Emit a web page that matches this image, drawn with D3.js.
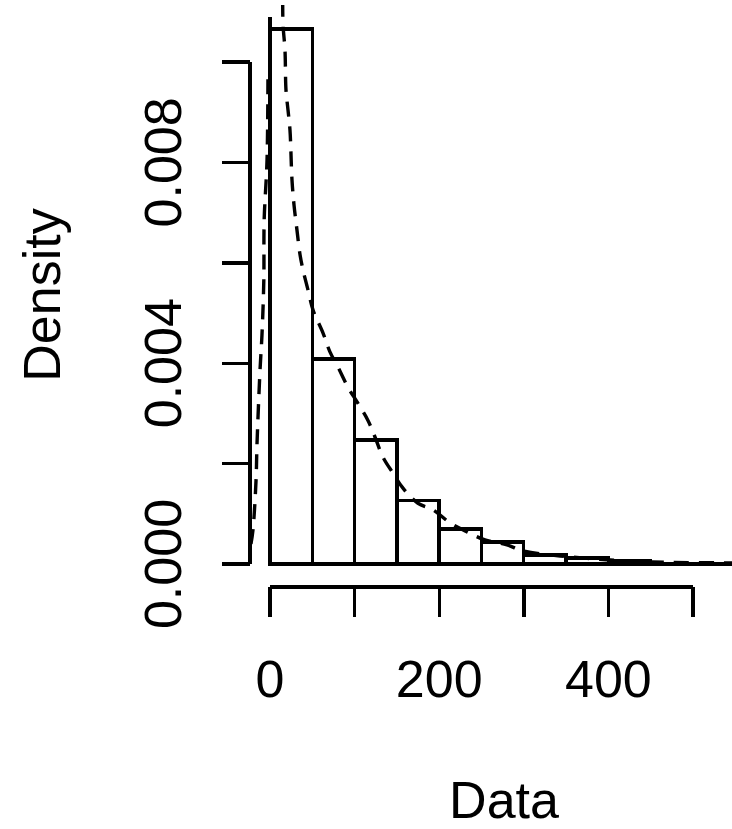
<!DOCTYPE html>
<html>
<head>
<meta charset="utf-8">
<script src="https://cdn.jsdelivr.net/npm/d3@7"></script>
<style>
  body { margin: 0; background: #fff; }
  svg { display: block; }
  text { font-family: "Liberation Sans", Arial, sans-serif; fill: #000; }
</style>
</head>
<body>
<svg width="732" height="829"></svg>
<script>
// histogram bins (width 50) and their densities
var binStarts = [0, 50, 100, 150, 200, 250, 300, 350, 400];
var binDensity = [0.01066, 0.00408, 0.00247, 0.00127, 0.00070, 0.00044, 0.00018, 0.00012, 0.00006];
var binWidth = 50;

// axis ticks
var xTicks = [0, 100, 200, 300, 400, 500];
var xTickLabels = ["0", "", "200", "", "400", ""];
var yTicks = [0, 0.002, 0.004, 0.006, 0.008, 0.010];
var yTickLabels = ["0.000", "", "0.004", "", "0.008", ""];

// solid line: spike at zero then flat
var solidX = [0, 0, 600];
var solidY = [0.0109, 0, 0];

// dashed curve on the left (rises steeply before 0)
var leftX = [-22.5, -20.1, -16.5, -15.4, -11.8, -9.5, -7.3, -6.9, -3.5, -2.4];
var leftY = [0.0004, 0.00068, 0.00167, 0.00237, 0.00386, 0.00456, 0.00566, 0.00685, 0.00805, 0.00978];

// dashed fitted curve following the bars
var fitX = [15.0, 15.4, 17.7, 18.9, 21.3, 23.6, 26.0, 28.4, 31.9, 35.5, 39.0, 44.9, 50.9, 62.7, 71.0, 80.4, 92.2, 104.0, 115.8, 124.1, 133.5, 145.4, 157.2, 174.9, 192.6, 212.8, 232.9, 254.1, 280.1, 299.1, 343.0, 402.0, 452.0, 560.0];
var fitY = [0.0112, 0.01074, 0.01024, 0.00944, 0.00904, 0.00865, 0.00765, 0.00715, 0.00665, 0.00616, 0.00586, 0.00546, 0.00506, 0.00460, 0.00422, 0.00392, 0.00352, 0.00320, 0.00286, 0.00253, 0.00213, 0.00181, 0.00151, 0.00121, 0.00108, 0.00082, 0.00064, 0.00048, 0.00038, 0.00026, 0.00016, 0.00008, 0.00004, 0.00002];

var svg = d3.select("svg"),
    width = +svg.attr("width"),
    height = +svg.attr("height");

var x = d3.scaleLinear().domain([0, 500]).range([270, 693]);
var y = d3.scaleLinear().domain([0, 0.010]).range([564, 62]);

var lw = 3.4;

svg.append("defs").append("clipPath")
    .attr("id", "plotclip")
    .append("rect")
    .attr("x", x(-23.6)).attr("y", 5)
    .attr("width", width).attr("height", 582);

var plot = svg.append("g").attr("clip-path", "url(#plotclip)");

var bars = plot.append("g")
    .selectAll("rect")
    .data(binStarts)
    .enter().append("rect")
    .call(redraw_bar);

function redraw_bar(bar) {
    bar.attr("x", function(d) { return x(d); })
        .attr("y", function(d, i) { return y(binDensity[i]); })
        .attr("width", function(d) { return x(d + binWidth) - x(d); })
        .attr("height", function(d, i) { return y(0) - y(binDensity[i]); })
        .attr("fill", "none")
        .attr("stroke", "black")
        .attr("stroke-width", lw)
        .attr("shape-rendering", "crispEdges");
}

function pts(xs, ys) {
    return xs.map(function(v, i) { return [v, ys[i]]; });
}

var line = d3.line()
    .x(function(p) { return x(p[0]); })
    .y(function(p) { return y(p[1]); });

var smooth = d3.line()
    .x(function(p) { return x(p[0]); })
    .y(function(p) { return y(p[1]); })
    .curve(d3.curveCatmullRom);

plot.append("path")
    .attr("d", line(pts(solidX, solidY)))
    .attr("fill", "none")
    .attr("stroke", "black")
    .attr("stroke-width", lw)
    .attr("shape-rendering", "crispEdges");

plot.append("path")
    .attr("d", smooth(pts(leftX, leftY)))
    .attr("fill", "none")
    .attr("stroke", "black")
    .attr("stroke-width", lw)
    .attr("stroke-dasharray", "15,10");

plot.append("path")
    .attr("d", smooth(pts(fitX, fitY)))
    .attr("fill", "none")
    .attr("stroke", "black")
    .attr("stroke-width", lw)
    .attr("stroke-dasharray", "15,10");

// y axis, R style
var yAxis = svg.append("g").attr("shape-rendering", "crispEdges");
yAxis.append("line")
    .attr("x1", 250).attr("x2", 250)
    .attr("y1", y(0)).attr("y2", y(0.010))
    .attr("stroke", "black").attr("stroke-width", lw);
yAxis.selectAll("line.tick")
    .data(yTicks)
    .enter().append("line")
    .attr("class", "tick")
    .attr("x1", 222).attr("x2", 250)
    .attr("y1", function(d) { return y(d); })
    .attr("y2", function(d) { return y(d); })
    .attr("stroke", "black").attr("stroke-width", lw);
yAxis.selectAll("text")
    .data(yTicks)
    .enter().append("text")
    .attr("transform", function(d) { return "translate(181," + y(d) + ") rotate(-90)"; })
    .attr("text-anchor", "middle")
    .attr("font-size", 52)
    .text(function(d, i) { return yTickLabels[i]; });

// x axis
var xAxis = svg.append("g").attr("shape-rendering", "crispEdges");
xAxis.append("line")
    .attr("x1", x(0)).attr("x2", x(500))
    .attr("y1", 587).attr("y2", 587)
    .attr("stroke", "black").attr("stroke-width", lw);
xAxis.selectAll("line.tick")
    .data(xTicks)
    .enter().append("line")
    .attr("class", "tick")
    .attr("x1", function(d) { return x(d); })
    .attr("x2", function(d) { return x(d); })
    .attr("y1", 587).attr("y2", 617)
    .attr("stroke", "black").attr("stroke-width", lw);
xAxis.selectAll("text")
    .data(xTicks)
    .enter().append("text")
    .attr("x", function(d) { return x(d); })
    .attr("y", 697)
    .attr("text-anchor", "middle")
    .attr("font-size", 52)
    .text(function(d, i) { return xTickLabels[i]; });

svg.append("text")
    .attr("x", 504).attr("y", 818)
    .attr("text-anchor", "middle")
    .attr("font-size", 52)
    .text("Data");

svg.append("text")
    .attr("transform", "translate(60,295) rotate(-90)")
    .attr("text-anchor", "middle")
    .attr("font-size", 52)
    .text("Density");
</script>
</body>
</html>
